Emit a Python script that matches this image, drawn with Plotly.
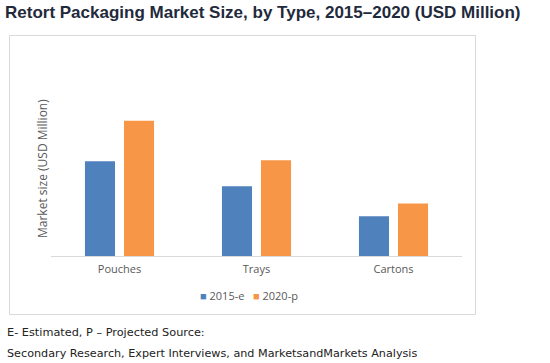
import plotly.graph_objects as go

categories = ["Pouches", "Trays", "Cartons"]
series_names = ["2015-e", "2020-p"]
values_2015 = [945, 697, 397]
values_2020 = [1350, 957, 524]
colors = ["#4F81BD", "#F79646"]

W, H = 550, 363
L, R, T, B = 51, 88, 50, 107
plot_w = W - L - R
plot_h = H - T - B
y_max = 2057

def px_x(px):
    return (px - L) / plot_w

def px_y(py):
    return (H - B - py) / plot_h

fig = go.Figure()
for name, vals, col in zip(series_names, [values_2015, values_2020], colors):
    fig.add_trace(go.Bar(x=categories, y=vals, name=name, marker=dict(color=col, line=dict(width=0))))

fig.update_layout(
    width=W, height=H,
    margin=dict(l=L, r=R, t=T, b=B, autoexpand=False),
    paper_bgcolor="white", plot_bgcolor="white",
    barmode="group", bargap=0.43, bargroupgap=0.23,
    showlegend=False,
    xaxis=dict(showline=True, linecolor="#D9D9D9", linewidth=1, ticks="", showgrid=False,
               ticklabelstandoff=3,
               tickfont=dict(family="Open Sans", size=11, color="#595959")),
    yaxis=dict(visible=False, range=[0, y_max], showgrid=False, zeroline=False),
    title=dict(text="<b>Retort Packaging Market Size, by Type, 2015–2020 (USD Million)</b>",
               x=5 / W, xanchor="left", xref="container",
               y=1 - 12.5 / H, yanchor="middle", yref="container",
               font=dict(family="Liberation Sans", size=17, color="#1F2A3C")),
)

fig.add_shape(type="rect", xref="paper", yref="paper",
              x0=px_x(9.5), x1=px_x(475.5), y0=px_y(314.5), y1=px_y(35.5),
              line=dict(color="#D9D9D9", width=1), fillcolor="rgba(0,0,0,0)", layer="below")

# legend drawn as text with coloured squares
legend_text = "&nbsp;&nbsp;&nbsp;".join(
    f"<span style='color:{c}'>■</span>&nbsp;{n}" for n, c in zip(series_names, colors))
fig.add_annotation(text=legend_text, xref="paper", yref="paper",
                   x=px_x(249), y=px_y(295), xanchor="center", yanchor="middle", showarrow=False,
                   font=dict(family="Open Sans", size=11, color="#595959"))

fig.add_annotation(text="Market size (USD Million)", textangle=-90, xref="paper", yref="paper",
                   x=px_x(42.5), y=px_y(168.5), xanchor="center", yanchor="middle", showarrow=False,
                   font=dict(family="Open Sans", size=12, color="#595959"))

fig.add_annotation(text="E- Estimated, P – Projected Source:", xref="paper", yref="paper",
                   x=px_x(5), y=px_y(332), xanchor="left", yanchor="middle", showarrow=False,
                   font=dict(family="DejaVu Sans", size=11.3, color="#222222"))
fig.add_annotation(text="Secondary Research, Expert Interviews, and MarketsandMarkets Analysis",
                   xref="paper", yref="paper",
                   x=px_x(5), y=px_y(353), xanchor="left", yanchor="middle", showarrow=False,
                   font=dict(family="DejaVu Sans", size=11.2, color="#222222"))

fig.write_html("out.html", config={"displayModeBar": False},
               post_script="document.body.style.margin='0';")
